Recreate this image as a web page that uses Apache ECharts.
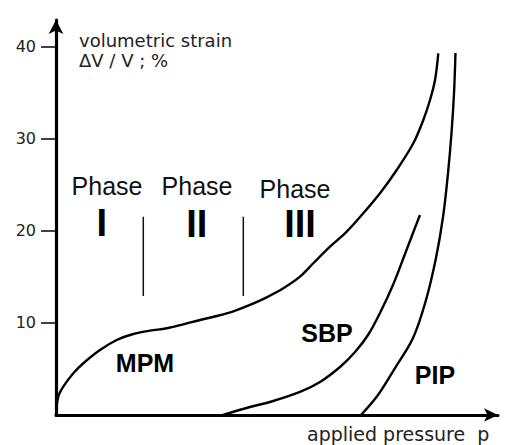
<!DOCTYPE html>
<html>
<head>
<meta charset="utf-8">
<script src="https://cdn.jsdelivr.net/npm/echarts@6/dist/echarts.min.js"></script>
<style>html,body{margin:0;padding:0;background:#fff}#c{width:507px;height:445px}</style>
</head>
<body>
<div id="c"></div>
<script>
// ---- data (applied pressure: arbitrary 0..100, volumetric strain %) ----
const yTicks = [10, 20, 30, 40];

const mpmX = [0, 0.52, 1.65, 3.91, 6.18, 9.95, 13.73, 17.49, 21.27, 25.05, 28.8, 32.58, 36.36, 40.11, 43.89, 47.67, 51.43, 55.2, 58.21, 61.99, 65.77, 69.52, 73.3, 77.08, 80.84, 83.1, 84.62, 85.75, 86.49];
const mpmY = [0, 1.99, 3.08, 4.53, 5.62, 7.06, 8.15, 8.80, 9.16, 9.42, 9.85, 10.32, 10.75, 11.26, 11.95, 12.78, 13.76, 15.02, 16.48, 18.28, 19.91, 21.91, 24.08, 26.61, 29.51, 32.04, 34.21, 36.38, 39.28];

const sbpX = [37.78, 43.89, 48.42, 55.2, 59.73, 64.25, 67.65, 70.59, 73.3, 76.24, 78.96, 80.77, 82.35];
const sbpY = [0, 0.87, 1.41, 2.50, 3.58, 5.21, 6.84, 8.69, 11.08, 14.12, 17.49, 19.77, 21.72];

const pipX = [69.0, 72.85, 76.7, 80.77, 83.71, 85.97, 87.56, 88.69, 89.48, 90.05, 90.38];
const pipY = [0, 2.17, 5.10, 8.36, 12.49, 17.05, 21.5, 26.28, 30.63, 34.97, 39.32];

// phase boundaries
const phaseBoundX = [19.75, 42.38];
const phaseBoundLow = 12.92;
const phaseBoundHigh = 21.54;

// annotations
const curveNames = ['MPM', 'SBP', 'PIP'];
const curveLabelX = [20.14, 61.31, 85.75];
const curveLabelY = [5.65, 8.9, 4.34];

const phaseWord = ['Phase', 'Phase', 'Phase'];
const phaseWordX = [11.54, 31.9, 54.07];
const phaseWordY = [24.9, 24.9, 24.55];
const phaseNum = ['I', 'II', 'III'];
const phaseNumX = [10.34, 31.83, 55.2];
const phaseNumY = [20.85, 20.74, 20.74];

const zip = (xs, ys) => xs.map((x, i) => [x, ys[i]]);
const named = (names, xs, ys) => names.map((n, i) => ({ name: n, value: [xs[i], ys[i]] }));

const chart = echarts.init(document.getElementById('c'), null, { renderer: 'svg' });

const curve = (name, data) => ({
  name, type: 'line', data, smooth: 0.35, symbol: 'none', silent: true,
  lineStyle: { color: '#000', width: 2.4 }, z: 3
});

const textSeries = (data, font) => ({
  type: 'scatter', data, symbolSize: 0.1, silent: true,
  itemStyle: { color: '#fff', opacity: 1 },
  label: {
    show: true, position: 'inside', formatter: p => p.name,
    color: font.color, fontSize: font.size, fontWeight: font.weight,
    fontFamily: font.family, align: 'center', verticalAlign: 'middle',
    textBorderWidth: 0, opacity: 1
  },
  z: 5
});

chart.setOption({
  animation: false,
  backgroundColor: '#fff',
  grid: { left: 56, right: 9, top: 20, bottom: 30, containLabel: false },
  xAxis: {
    type: 'value', min: 0, max: 100,
    axisLine: { show: true, onZero: false, symbol: ['none', 'arrow'], symbolSize: [10, 14],
      lineStyle: { color: '#000', width: 3 } },
    axisTick: { show: false }, axisLabel: { show: false }, splitLine: { show: false }
  },
  yAxis: {
    type: 'value', min: 0, max: 42.9,
    axisLine: { show: true, onZero: false, symbol: ['none', 'arrow'], symbolSize: [11, 14],
      lineStyle: { color: '#000', width: 3.2 } },
    axisTick: { show: true, length: 15, customValues: yTicks, lineStyle: { color: '#000', width: 1.5 } },
    axisLabel: { show: true, customValues: yTicks, margin: 20, color: '#222', fontSize: 16,
      fontFamily: 'DejaVu Sans' },
    splitLine: { show: false }
  },
  graphic: [
    { type: 'text', silent: true,
      style: { x: 79, y: 30, text: 'volumetric strain\nΔV / V ; %', font: '18px "DejaVu Sans"',
        fill: '#222', lineHeight: 20, align: 'left', verticalAlign: 'top' } },
    { type: 'text', silent: true,
      style: { x: 307, y: 434, text: 'applied pressure  p', font: '19px "DejaVu Sans"',
        fill: '#222', align: 'left', verticalAlign: 'middle' } }
  ],
  series: [
    curve('MPM', zip(mpmX, mpmY)),
    curve('SBP', zip(sbpX, sbpY)),
    curve('PIP', zip(pipX, pipY)),
    ...phaseBoundX.map(x => ({
      type: 'line', data: [[x, phaseBoundLow], [x, phaseBoundHigh]], symbol: 'none', silent: true,
      lineStyle: { color: '#111', width: 1.5 }
    })),
    textSeries(named(curveNames, curveLabelX, curveLabelY),
      { color: '#000', size: 25, weight: 'bold', family: '"Liberation Sans", Arial, sans-serif' }),
    textSeries(named(phaseWord, phaseWordX, phaseWordY),
      { color: '#111', size: 25, weight: 'normal', family: '"Liberation Sans", Arial, sans-serif' }),
    textSeries(named(phaseNum, phaseNumX, phaseNumY),
      { color: '#000', size: 38, weight: 'bold', family: '"Liberation Sans", Arial, sans-serif' })
  ]
});
</script>
</body>
</html>
